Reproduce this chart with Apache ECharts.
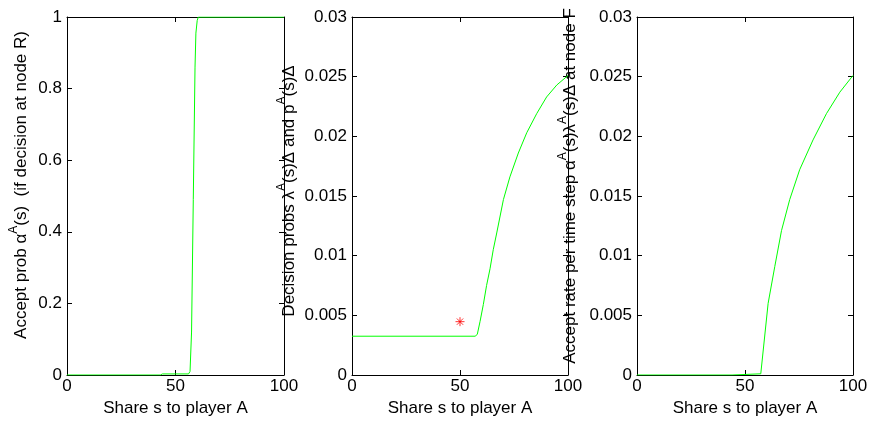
<!DOCTYPE html>
<html>
<head>
<meta charset="utf-8">
<script src="https://cdn.jsdelivr.net/npm/echarts@6/dist/echarts.min.js"></script>
<style>html,body{margin:0;padding:0;background:#fff;}#c{width:872px;height:425px;}</style>
</head>
<body>
<div id="c"></div>
<script>
// ---- data ----
const xTicks = [0, 50, 100];
const acceptProb = [[0,0],[43,0],[44,0.003],[56,0.003],[56.7,0.01],[57.4,0.12],[58.2,0.49],[59,0.86],[59.4,0.955],[60,0.99],[60.5,1],[100,1]];
const decisionProb = [[0,0.00325],[57,0.00325],[58,0.0034],[59.3,0.0045],[60.8,0.0059],[62.3,0.0075],[63.9,0.0089],[65.4,0.0105],[67,0.0119],[70.1,0.0147],[73.1,0.0166],[77,0.0186],[80.9,0.0203],[85.5,0.0219],[90.1,0.0233],[94.8,0.0243],[100,0.0251]];
const starPoint = [[50,0.00447]];
const acceptRate = [[0,0],[44,0],[44.5,0.0001],[57.3,0.0001],[57.4,0],[60.7,0.006],[63.8,0.0091],[66.9,0.0121],[70.7,0.0147],[75.3,0.0172],[81.5,0.0197],[87.7,0.0219],[93.9,0.0237],[100,0.0251]];
const xTitle = 'Share s to player A';
const yTitles = [
  '{n|Accept prob α}{s|A}{n|(s)  (if decision at node R)}',
  '{n|Decision probs λ}{s|A}{n|(s)Δ and p}{s|A}{n|(s)Δ}',
  '{n|Accept rate per time step α}{s|A}{n|(s)λ}{s|A}{n|(s)Δ at node F}'
];

const FONT = '"Liberation Sans", Arial, sans-serif';
const chart = echarts.init(document.getElementById('c'), null, {renderer: 'canvas'});

const grids = [
  {left: 67, width: 217, top: 17, bottom: 50},
  {left: 352, width: 216, top: 17, bottom: 50},
  {left: 637, width: 216, top: 17, bottom: 50}
];
const yRanges = [
  {min: 0, max: 1, interval: 0.2},
  {min: 0, max: 0.03, interval: 0.005},
  {min: 0, max: 0.03, interval: 0.005}
];
const nameGaps = [37, 54, 58];
const namePads = [[0,0,0,22],[0,0,0,10],[0,0,0,20]];

const axisLine = {show: true, onZero: false, lineStyle: {color: '#000', width: 1}};
const tick = {show: true, inside: true, length: 5, lineStyle: {color: '#000', width: 1}};

const xAxes = [], yAxes = [];
grids.forEach((g, i) => {
  xAxes.push({
    type: 'value', gridIndex: i, position: 'bottom', min: 0, max: 100, interval: 50,
    axisLine, axisTick: tick, splitLine: {show: false},
    axisLabel: {show: true, margin: 3, fontSize: 17, fontFamily: FONT, color: '#000',
      formatter: v => xTicks.includes(v) ? String(v) : ''},
    name: xTitle, nameLocation: 'middle', nameGap: 25,
    nameTextStyle: {fontSize: 17, fontFamily: FONT, color: '#000'}
  });
  xAxes.push({
    type: 'value', gridIndex: i, position: 'top', min: 0, max: 100, interval: 50,
    axisLine, axisTick: tick, splitLine: {show: false}, axisLabel: {show: false}
  });
  const r = yRanges[i];
  yAxes.push({
    type: 'value', gridIndex: i, position: 'left', min: r.min, max: r.max, interval: r.interval,
    axisLine, axisTick: tick, splitLine: {show: false},
    axisLabel: {margin: 5, fontSize: 17, fontFamily: FONT, color: '#000'},
    name: yTitles[i], nameLocation: 'middle', nameGap: nameGaps[i], nameRotate: 90,
    nameTextStyle: {
      padding: namePads[i],
      rich: {
        n: {fontSize: 17, fontFamily: FONT, color: '#000', lineHeight: 22, verticalAlign: 'bottom'},
        s: {fontSize: 12, fontFamily: FONT, color: '#000', lineHeight: 12, verticalAlign: 'top'}
      }
    }
  });
  yAxes.push({
    type: 'value', gridIndex: i, position: 'right', min: r.min, max: r.max, interval: r.interval,
    axisLine, axisTick: tick, splitLine: {show: false}, axisLabel: {show: false}
  });
});

const lineSeries = (data, idx) => ({
  type: 'line', data, xAxisIndex: idx * 2, yAxisIndex: idx * 2,
  showSymbol: false, symbol: 'none', smooth: false,
  lineStyle: {color: '#00ff00', width: 1}, z: 3
});

chart.setOption({
  animation: false,
  backgroundColor: '#fff',
  grid: grids,
  xAxis: xAxes,
  yAxis: yAxes,
  series: [
    lineSeries(acceptProb, 0),
    lineSeries(decisionProb, 1),
    lineSeries(acceptRate, 2),
    {
      type: 'scatter', data: starPoint, xAxisIndex: 2, yAxisIndex: 2,
      symbol: 'path://M0,-10L0,10M-10,0L10,0M-7,-7L7,7M-7,7L7,-7',
      symbolSize: 9,
      itemStyle: {color: 'rgba(0,0,0,0)', borderColor: '#ff0000', borderWidth: 1}, z: 4
    }
  ]
});
</script>
</body>
</html>
